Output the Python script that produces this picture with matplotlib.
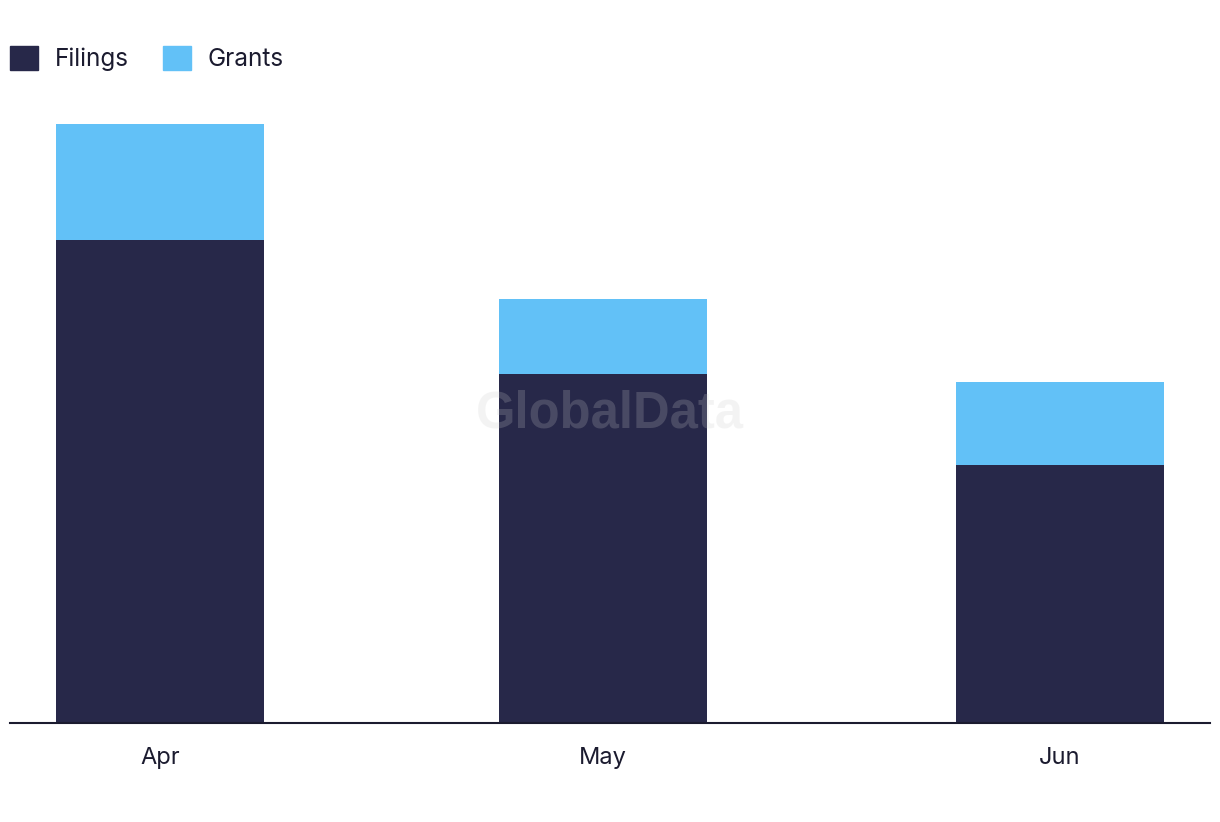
import pandas as pd
import matplotlib
matplotlib.use('Agg')
import matplotlib.pyplot as plt
from matplotlib.patches import Patch

months = pd.to_datetime(['2023-04-01', '2023-05-01', '2023-06-01'])
month_labels = ['Apr', 'May', 'Jun']
filings = [58, 42, 31]
grants = [14, 9, 10]

dark = '#272849'
light = '#62c1f7'
text_col = '#1b1b2f'

plt.rcParams['font.family'] = ['Inter', 'DejaVu Sans']

fig = plt.figure(figsize=(12.2, 8.22), dpi=100)
ax = fig.add_axes([10 / 1220, 1 - 723 / 822, 1200 / 1220, (723 - 124) / 822])

width = pd.Timedelta(days=14.1)
ax.bar(months, filings, width=width, color=dark)
ax.bar(months, grants, bottom=filings, width=width, color=light)

ax.set_xlim(months[0] - pd.Timedelta(days=10.2), months[-1] + pd.Timedelta(days=10.2))
ax.set_ylim(0, 72)
ax.set_xticks(months)
ax.set_xticklabels(month_labels)
ax.tick_params(axis='x', length=0, pad=17, labelsize=17, labelcolor=text_col)
ax.set_yticks([])
for s in ['top', 'right', 'left']:
    ax.spines[s].set_visible(False)
ax.spines['bottom'].set_color(text_col)
ax.spines['bottom'].set_linewidth(1.5)

fig.text(0.5, 1 - 414 / 822, 'GlobalData', family='Liberation Sans', weight='bold',
         fontsize=36.5, color='#cbcbcb', alpha=0.21, ha='center', va='center')

handles = [Patch(color=dark, label='Filings'), Patch(color=light, label='Grants')]
fig.legend(handles=handles, loc='upper left', bbox_to_anchor=(0.0, 1 - 36 / 822),
           ncol=2, frameon=False, fontsize=17.5, labelcolor=text_col,
           handlelength=1.15, handleheight=1.15, handletextpad=0.7, columnspacing=1.4,
           borderaxespad=0, borderpad=0.4)

fig.savefig('out.png', dpi=100)
